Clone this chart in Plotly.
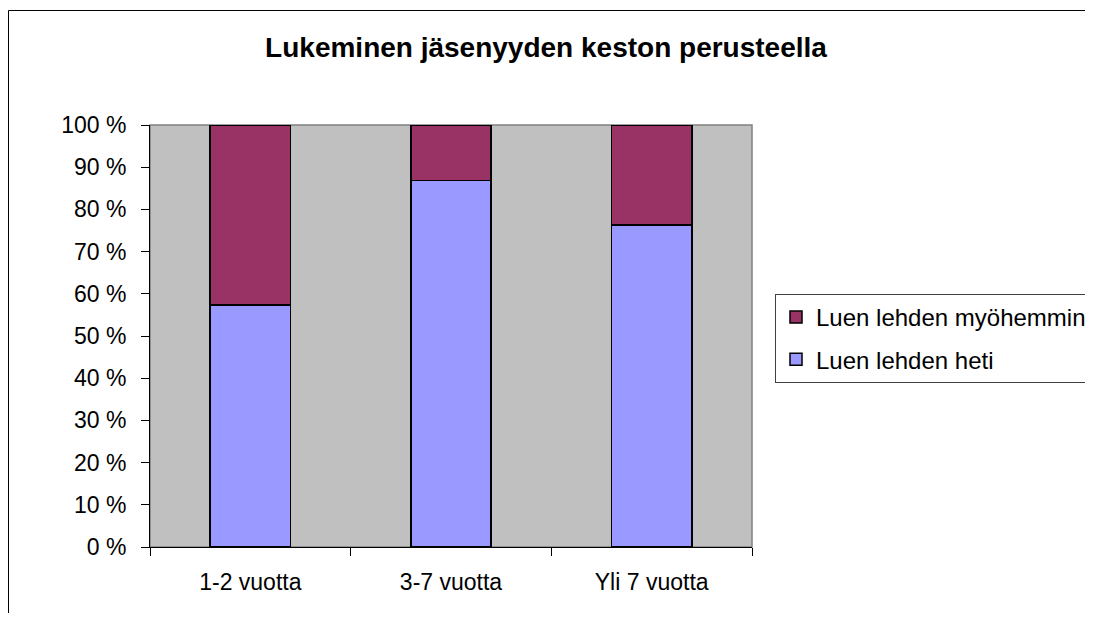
import plotly.graph_objects as go

categories = ["1-2 vuotta", "3-7 vuotta", "Yli 7 vuotta"]
heti = [57.4, 86.8, 76.3]
myohemmin = [42.6, 13.2, 23.7]
series_names = ["Luen lehden heti", "Luen lehden myöhemmin"]
title_text = "Lukeminen jäsenyyden keston perusteella"

OFF = 8  # page body margin
W, H = 1093 - OFF, 621 - 2 * OFF
L, R, T, B = 150 - OFF, 752 - OFF, 125 - OFF, 547 - OFF

fig = go.Figure()
fig.add_trace(go.Bar(x=categories, y=heti, name=series_names[0], width=0.4,
                     marker=dict(color="#9999FF", line=dict(color="black", width=1.5)),
                     legendgroup="a", legendrank=2))
fig.add_trace(go.Bar(x=categories, y=myohemmin, name=series_names[1], width=0.4,
                     marker=dict(color="#993366", line=dict(color="black", width=1.5)),
                     legendgroup="b", legendrank=1))

pw, ph = R - L, B - T
def px_x(p):
    return (p - OFF - L) / pw
def px_y(p):
    return (B - (p - OFF)) / ph

font = "Liberation Sans, Arial, sans-serif"
fig.update_layout(
    width=W, height=H,
    margin=dict(l=L, r=W - R, t=T, b=H - B, pad=0, autoexpand=False),
    paper_bgcolor="white", plot_bgcolor="#C0C0C0",
    barmode="stack",
    font=dict(family=font, size=23, color="black"),
    title=dict(text="<b>" + title_text + "</b>", x=px_x(546), xref="paper", xanchor="center",
               y=1 - (47 - OFF) / H, yref="container", yanchor="middle",
               font=dict(size=28, family=font, color="black")),
    legend=dict(x=(775 - OFF) / W, y=1 - (294 - OFF) / H, xref="container", yref="container",
                xanchor="left", yanchor="top",
                traceorder="grouped", tracegroupgap=8,
                bordercolor="#404040", borderwidth=1, bgcolor="white",
                font=dict(size=24, family=font), itemwidth=30),
    showlegend=True,
    xaxis=dict(type="category", tickson="boundaries", ticks="outside", ticklen=8,
               tickcolor="black", showline=True, linecolor="black", linewidth=1,
               showgrid=False, ticklabelstandoff=14, fixedrange=True),
    yaxis=dict(range=[0, 100], dtick=10, ticksuffix=" %", ticks="outside", ticklen=8,
               tickcolor="black", showline=True, linecolor="black", linewidth=1,
               showgrid=False, zeroline=False, ticklabelstandoff=10, fixedrange=True),
    shapes=[
        dict(type="rect", xref="paper", yref="paper", x0=0, x1=1, y0=0, y1=1,
             line=dict(color="#808080", width=1.5), layer="below"),
        dict(type="rect", xref="paper", yref="paper", x0=px_x(8.5), x1=px_x(1110),
             y0=px_y(640), y1=px_y(10.5), line=dict(color="black", width=1),
             fillcolor="rgba(0,0,0,0)", layer="below"),
    ],
)

fig.write_html("out.html")
